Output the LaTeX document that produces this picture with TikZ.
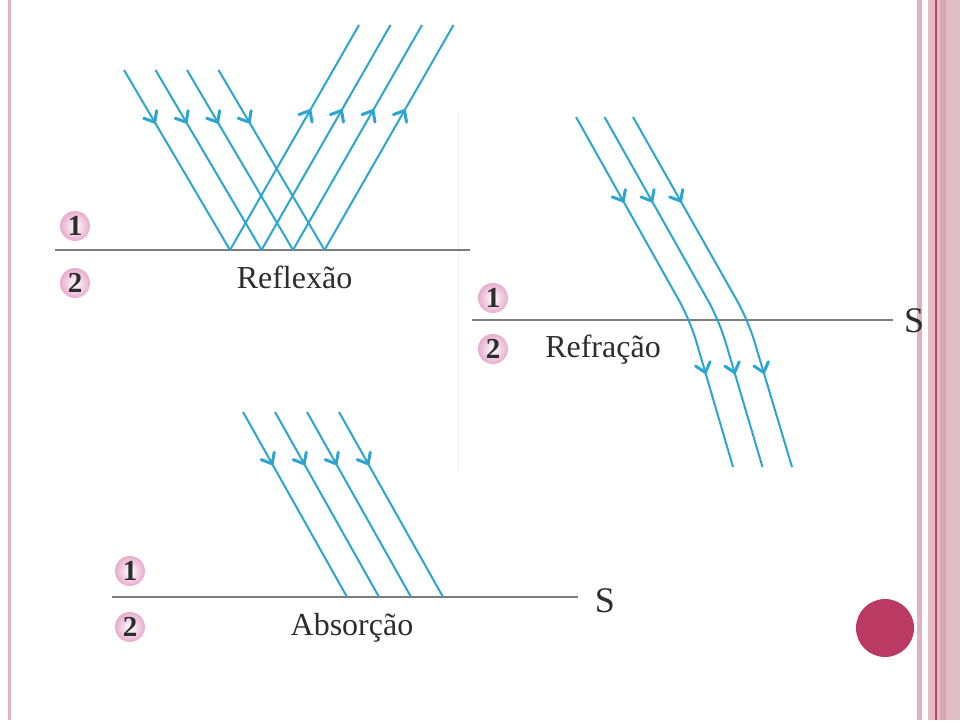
\documentclass[tikz,border=0pt]{standalone}
\usepackage{fontspec}
\setmainfont{Liberation Serif}
\usetikzlibrary{arrows.meta,decorations.markings}
\definecolor{ray}{RGB}{42,166,208}
\definecolor{bline}{RGB}{125,125,125}
\definecolor{pinkA}{RGB}{222,178,190}
\definecolor{pinkB}{RGB}{226,188,198}
\definecolor{pinkC}{RGB}{214,168,180}
\definecolor{pinkdark}{RGB}{185,70,105}
\definecolor{dotred}{RGB}{186,58,100}
\definecolor{numpink}{RGB}{232,172,206}
\definecolor{txt}{RGB}{45,45,45}
\newcommand{\raychevron}{\draw[ray, sharp corners, line width=3pt, line join=miter, line cap=round] (-9pt,7.5pt) -- (0pt,0pt) -- (-9pt,-7.5pt);}
\tikzset{
  rayline/.style={ray, line width=2pt},
  arrowat/.style={postaction={decorate},
    decoration={markings, mark=at position #1 with {\raychevron}}},
  arrowtwo/.style 2 args={postaction={decorate},
    decoration={markings,
      mark=at position #1 with {\raychevron},
      mark=at position #2 with {\raychevron}}},
  surface/.style={bline, line width=2.5pt},
  num/.style={circle, minimum size=30pt, inner sep=0pt, shading=radial,
    inner color=white, outer color=numpink, text=txt,
    font=\fontsize{29}{29}\selectfont\bfseries},
  lbl/.style={anchor=base, text=txt, inner sep=0pt,
    font=\fontsize{32}{32}\selectfont},
  slbl/.style={anchor=base, text=txt, inner sep=0pt,
    font=\fontsize{36}{36}\selectfont},
}
\begin{document}
\begin{tikzpicture}[x=1pt,y=-1pt]
\useasboundingbox (0,0) rectangle (960,720);
\fill[white] (0,0) rectangle (960,720);
% frame stripes
\fill[pinkA] (8,0) rectangle (11,720);
\fill[pinkA] (917,0) rectangle (922,720);
\fill[pinkB] (928,0) rectangle (960,720);
\fill[pinkC] (940,0) rectangle (946,720);
\fill[pinkdark] (935,0) rectangle (937,720);
% faint edge of pasted picture
\draw[gray!12, line width=1pt] (458,113) -- (458,470);

% ---------- Reflexao ----------
\coordinate (s1a) at (55,250);
\coordinate (s1b) at (470,250);
\draw[surface] (s1a) -- (s1b);
\foreach \i in {0,...,3} {
  \coordinate (ri\i) at ({124+31.5*\i},70);
  \coordinate (rp\i) at ({230+31.5*\i},250);
  \coordinate (ro\i) at ({359+31.5*\i},25);
  \draw[rayline, arrowat=0.29] (ri\i) -- (rp\i);
  \draw[rayline, arrowat=0.62] (rp\i) -- (ro\i);
}
\node[num] (n1a) at (75,226) {1};
\node[num] (n2a) at (75,283) {2};
\node[lbl] (tRefl) at (294.5,288) {Reflexão};

% ---------- Refracao ----------
\coordinate (s2a) at (472,320);
\coordinate (s2b) at (893,320);
\draw[surface] (s2a) -- (s2b);
\foreach \i in {0,...,2} {
  \coordinate (fi\i) at ({576+28.5*\i},117);
  \coordinate (fp\i) at ({690+29*\i},320);
  \coordinate (fo\i) at ({733+29.5*\i},467);
  \draw[rayline, rounded corners=22pt, arrowtwo={0.25}{0.745}] (fi\i) -- (fp\i) -- (fo\i);
}
\node[num] (n1b) at (493,298) {1};
\node[num] (n2b) at (493,349) {2};
\node[lbl] (tRefr) at (603,357) {Refração};
\node[slbl] (sB) at (914,332) {S};

% ---------- Absorcao ----------
\coordinate (s3a) at (112,597);
\coordinate (s3b) at (578,597);
\draw[surface] (s3a) -- (s3b);
\foreach \i in {0,...,3} {
  \coordinate (ai\i) at ({243+32*\i},412);
  \coordinate (ap\i) at ({347+32*\i},597);
  \draw[rayline, arrowat=0.28] (ai\i) -- (ap\i);
}
\node[num] (n1c) at (130,571) {1};
\node[num] (n2c) at (130,627) {2};
\node[lbl] (tAbs) at (352,635) {Absorção};
\node[slbl] (sC) at (605,612) {S};

% red dot
\fill[dotred] (885,628) circle[radius=29];
\end{tikzpicture}
\end{document}
